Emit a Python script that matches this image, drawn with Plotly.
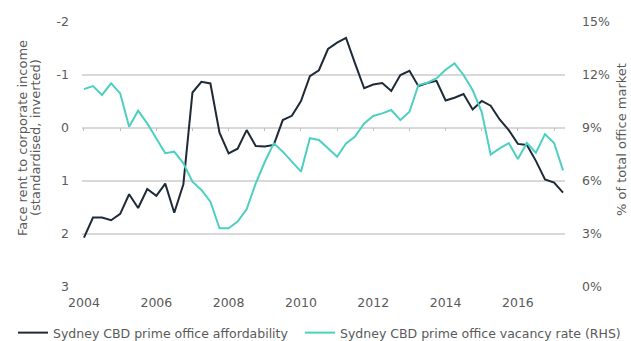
import pandas as pd
import plotly.graph_objects as go

# Quarterly observations, 2004 Q1 to 2017 Q2
quarters = pd.date_range("2004-01-01", "2017-04-01", freq="QS").strftime("%Y-%m-%d").tolist()

# Sydney CBD prime office affordability (standardised, left axis, inverted)
affordability = [2.07, 1.69, 1.69, 1.74, 1.62, 1.25, 1.51, 1.15, 1.28, 1.05,
                 1.60, 1.06, -0.67, -0.87, -0.84, 0.09, 0.48, 0.39, 0.04, 0.34,
                 0.35, 0.32, -0.15, -0.23, -0.51, -0.98, -1.09, -1.49, -1.61, -1.70,
                 -1.22, -0.75, -0.82, -0.85, -0.70, -1.00, -1.08, -0.79, -0.85, -0.89,
                 -0.52, -0.57, -0.64, -0.35, -0.51, -0.42, -0.16, 0.04, 0.30, 0.32,
                 0.62, 0.97, 1.03, 1.22]

# Sydney CBD prime office vacancy rate, % (right axis)
vacancy = [11.2, 11.37, 10.87, 11.53, 10.96, 9.07, 9.98, 9.26, 8.41, 7.57,
           7.66, 7.0, 5.96, 5.49, 4.83, 3.32, 3.32, 3.70, 4.40, 5.87,
           7.09, 8.13, 7.66, 7.09, 6.53, 8.42, 8.32, 7.85, 7.37, 8.13,
           8.51, 9.26, 9.68, 9.83, 10.02, 9.45, 9.92, 11.43, 11.56, 11.81,
           12.3, 12.66, 12.0, 11.15, 9.9, 7.5, 7.85, 8.15, 7.25, 8.15,
           7.6, 8.65, 8.15, 6.6]

left_ticks = [-2, -1, 0, 1, 2, 3]
left_labels = ["-2", "-1", "0", "1", "2", "3"]
right_ticks = [0, 3, 6, 9, 12, 15]
right_labels = [f"{v}%" for v in right_ticks]

DARK = "#1e2a38"
TEAL = "#4dd0c2"
GREY_TXT = "#5a5a5a"
GRID = "#d9d9d9"
FONT = "DejaVu Sans"

fig = go.Figure()
fig.add_trace(go.Scatter(
    x=quarters, y=affordability, mode="lines",
    name="Sydney CBD prime office affordability",
    line=dict(color=DARK, width=2), yaxis="y", legend="legend"))
fig.add_trace(go.Scatter(
    x=quarters, y=vacancy, mode="lines",
    name="Sydney CBD prime office vacancy rate (RHS)",
    line=dict(color=TEAL, width=2), yaxis="y2", legend="legend2"))
# invisible trace to carry the zero-line tick marks axis
fig.add_trace(go.Scatter(x=[quarters[0], quarters[-1]], y=[None, None],
                         xaxis="x2", showlegend=False, hoverinfo="skip"))

xr = ["2003-12-12", "2017-04-21"]
leg_y = (341 - 333) / 341
title_font = dict(size=13, color=GREY_TXT, family=FONT)
fig.update_layout(
    width=631, height=341,
    margin=dict(l=82, r=66, t=22, b=54, autoexpand=False),
    paper_bgcolor="white", plot_bgcolor="white",
    font=dict(family=FONT, size=12, color=GREY_TXT),
    xaxis=dict(type="date", range=xr, dtick="M24", tick0="2004-01-01",
               tickformat="%Y", showgrid=False, showline=False, ticks="",
               ticklabelstandoff=6,
               tickfont=dict(size=12.5, color=GREY_TXT), zeroline=False),
    xaxis2=dict(type="date", range=xr, dtick="M12", tick0="2004-01-01",
                overlaying="x", anchor="free", position=(287 - 127) / 265,
                showticklabels=False, showgrid=False, showline=False,
                ticks="outside", ticklen=3, tickcolor="#bfbfbf", tickwidth=1),
    yaxis=dict(range=[3, -2], tickvals=left_ticks, ticktext=left_labels,
               showgrid=True, gridcolor=GRID, gridwidth=1.5, zeroline=False,
               showline=False, ticks="", ticklabelstandoff=12,
               tickfont=dict(size=12.5, color=GREY_TXT)),
    yaxis2=dict(range=[0, 15], tickvals=right_ticks, ticktext=right_labels,
                overlaying="y", side="right", showgrid=False, zeroline=False,
                showline=False, ticks="", ticklabelstandoff=16,
                tickfont=dict(size=12.5, color=GREY_TXT)),
    legend=dict(orientation="h", x=13 / 631, y=leg_y, xref="container",
                yref="container", xanchor="left", yanchor="middle",
                bgcolor="rgba(0,0,0,0)",
                font=dict(size=12.5, color=GREY_TXT, family=FONT)),
    legend2=dict(orientation="h", x=300 / 631, y=leg_y, xref="container",
                 yref="container", xanchor="left", yanchor="middle",
                 bgcolor="rgba(0,0,0,0)",
                 font=dict(size=12.5, color=GREY_TXT, family=FONT)),
    showlegend=True,
    annotations=[
        dict(text="Face rent to corporate income",
             xref="paper", yref="paper", x=(22 - 82) / 483, y=(287 - 138) / 265,
             xanchor="center", yanchor="middle", textangle=-90, showarrow=False,
             font=title_font),
        dict(text="(standardised, inverted)",
             xref="paper", yref="paper", x=(35 - 82) / 483, y=(287 - 138) / 265,
             xanchor="center", yanchor="middle", textangle=-90, showarrow=False,
             font=title_font),
        dict(text="% of total office market",
             xref="paper", yref="paper", x=(621 - 82) / 483, y=(287 - 140) / 265,
             xanchor="center", yanchor="middle", textangle=-90, showarrow=False,
             font=title_font),
    ],
)

fig.write_html("out.html")
